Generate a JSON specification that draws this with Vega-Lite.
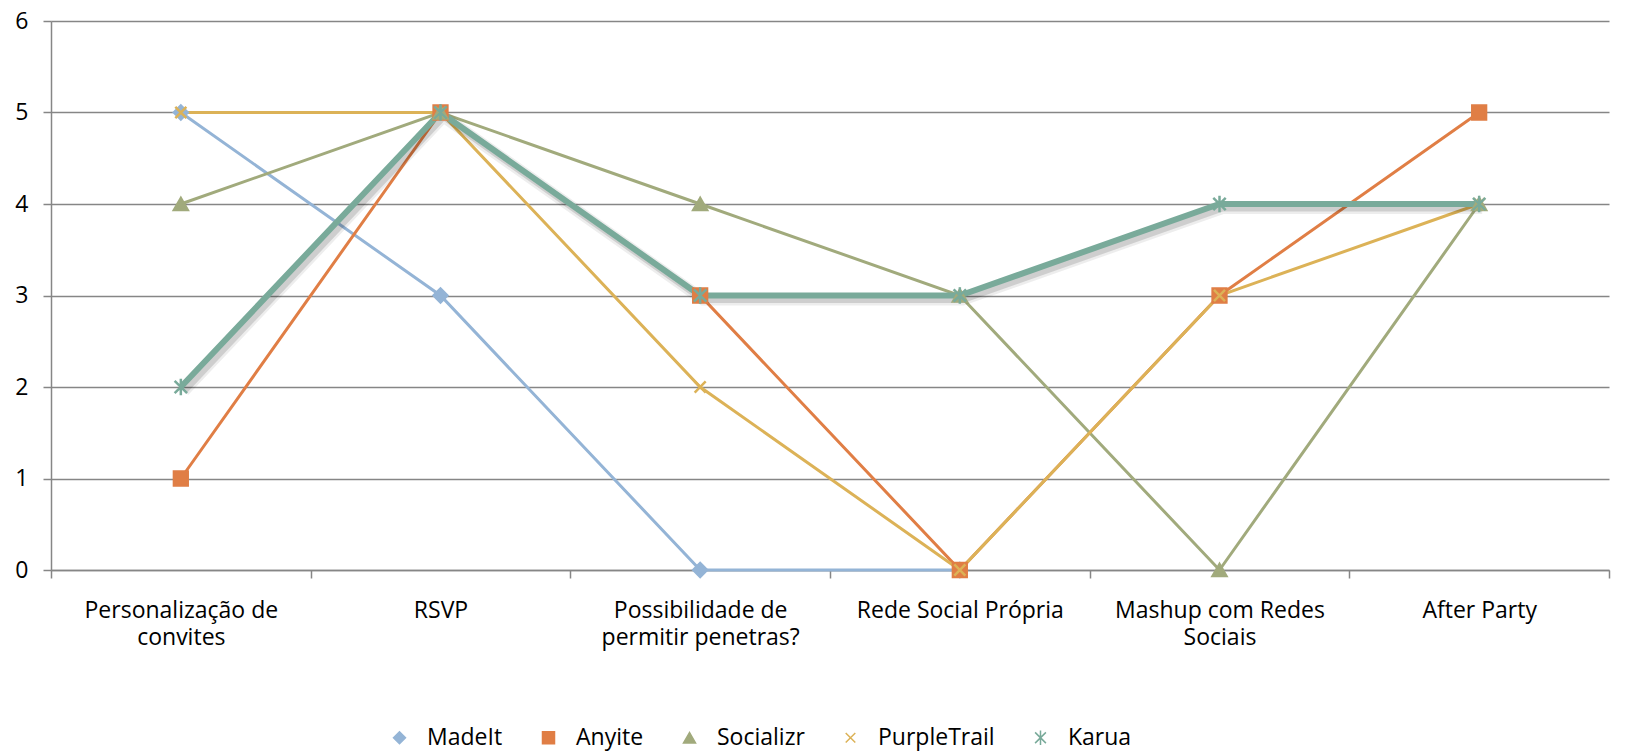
{
  "$schema": "https://vega.github.io/schema/vega-lite/v6.json",
  "width": 1558,
  "height": 549,
  "autosize": {"type": "none"},
  "padding": {"left": 51, "top": 21, "right": 19, "bottom": 183},
  "background": "white",
  "config": {"view": {"stroke": null}, "font": "Open Sans"},
  "data": {
    "values": [
      {"series": "MadeIt", "feature": "Personalização de convites", "score": 5},
      {"series": "MadeIt", "feature": "RSVP", "score": 3},
      {"series": "MadeIt", "feature": "Possibilidade de permitir penetras?", "score": 0},
      {"series": "MadeIt", "feature": "Rede Social Própria", "score": 0},
      {"series": "Anyite", "feature": "Personalização de convites", "score": 1},
      {"series": "Anyite", "feature": "RSVP", "score": 5},
      {"series": "Anyite", "feature": "Possibilidade de permitir penetras?", "score": 3},
      {"series": "Anyite", "feature": "Rede Social Própria", "score": 0},
      {"series": "Anyite", "feature": "Mashup com Redes Sociais", "score": 3},
      {"series": "Anyite", "feature": "After Party", "score": 5},
      {"series": "Socializr", "feature": "Personalização de convites", "score": 4},
      {"series": "Socializr", "feature": "RSVP", "score": 5},
      {"series": "Socializr", "feature": "Possibilidade de permitir penetras?", "score": 4},
      {"series": "Socializr", "feature": "Rede Social Própria", "score": 3},
      {"series": "Socializr", "feature": "Mashup com Redes Sociais", "score": 0},
      {"series": "Socializr", "feature": "After Party", "score": 4},
      {"series": "PurpleTrail", "feature": "Personalização de convites", "score": 5},
      {"series": "PurpleTrail", "feature": "RSVP", "score": 5},
      {"series": "PurpleTrail", "feature": "Possibilidade de permitir penetras?", "score": 2},
      {"series": "PurpleTrail", "feature": "Rede Social Própria", "score": 0},
      {"series": "PurpleTrail", "feature": "Mashup com Redes Sociais", "score": 3},
      {"series": "PurpleTrail", "feature": "After Party", "score": 4},
      {"series": "Karua", "feature": "Personalização de convites", "score": 2},
      {"series": "Karua", "feature": "RSVP", "score": 5},
      {"series": "Karua", "feature": "Possibilidade de permitir penetras?", "score": 3},
      {"series": "Karua", "feature": "Rede Social Própria", "score": 3},
      {"series": "Karua", "feature": "Mashup com Redes Sociais", "score": 4},
      {"series": "Karua", "feature": "After Party", "score": 4}
    ]
  },
  "encoding": {
    "x": {
      "field": "feature",
      "type": "nominal",
      "bandPosition": 0.5,
      "scale": {
        "type": "band",
        "domain": ["Personalização de convites", "RSVP", "Possibilidade de permitir penetras?", "Rede Social Própria", "Mashup com Redes Sociais", "After Party"],
        "paddingInner": 0,
        "paddingOuter": 0
      },
      "axis": {
        "title": null,
        "labelAngle": 0,
        "grid": false,
        "domain": true,
        "domainColor": "#868686",
        "domainWidth": 1.5,
        "ticks": true,
        "tickBand": "extent",
        "tickSize": 8,
        "tickColor": "#868686",
        "tickWidth": 1.5,
        "labelFont": "Open Sans",
        "labelFontSize": 23,
        "labelColor": "#000000",
        "labelPadding": 21,
        "labelLineHeight": 27,
        "labelLimit": 500,
        "labelExpr": "datum.label == 'Personalização de convites' ? ['Personalização de', 'convites'] : datum.label == 'Possibilidade de permitir penetras?' ? ['Possibilidade de', 'permitir penetras?'] : datum.label == 'Mashup com Redes Sociais' ? ['Mashup com Redes', 'Sociais'] : datum.label"
      }
    },
    "y": {
      "field": "score",
      "type": "quantitative",
      "scale": {"domain": [0, 6], "nice": false},
      "axis": {
        "title": null,
        "values": [0, 1, 2, 3, 4, 5, 6],
        "grid": true,
        "gridColor": "#868686",
        "gridWidth": 1.5,
        "domainColor": "#868686",
        "domainWidth": 1.5,
        "tickColor": "#868686",
        "tickWidth": 1.5,
        "tickSize": 8,
        "labelFont": "Open Sans",
        "labelFontSize": 23,
        "labelColor": "#000000",
        "labelPadding": 15
      }
    }
  },
  "layer": [
    {
      "transform": [{"filter": "datum.series !== 'Karua'"}],
      "mark": {"type": "line", "strokeWidth": 3},
      "encoding": {
        "color": {
          "field": "series",
          "type": "nominal",
          "scale": {"domain": ["MadeIt", "Anyite", "Socializr", "PurpleTrail", "Karua"], "range": ["#94B4D6", "#E07E45", "#A1AA7C", "#DCB257", "#79AA9A"]}
        }
      }
    },
    {
      "transform": [{"filter": "datum.series === 'Karua'"}],
      "mark": {"type": "line", "strokeWidth": 12, "color": "#000000", "opacity": 0.07, "xOffset": 3, "yOffset": 4},
      "encoding": {}
    },
    {
      "transform": [{"filter": "datum.series === 'Karua'"}],
      "mark": {"type": "line", "strokeWidth": 7, "color": "#000000", "opacity": 0.13, "xOffset": 3, "yOffset": 4},
      "encoding": {}
    },
    {
      "transform": [{"filter": "datum.series === 'Karua'"}],
      "mark": {"type": "line", "strokeWidth": 6},
      "encoding": {
        "color": {"field": "series", "type": "nominal"}
      }
    },
    {
      "mark": {"type": "point", "filled": true, "size": 190, "strokeWidth": 2.5, "opacity": 1},
      "encoding": {
        "color": {
          "field": "series",
          "type": "nominal",
          "legend": {
            "orient": "none",
            "legendX": 325,
            "legendY": 705,
            "direction": "horizontal",
            "title": null,
            "symbolSize": 144,
            "symbolOffset": 12,
            "labelOffset": 16,
            "columnPadding": 22,
            "labelFont": "Open Sans",
            "labelFontSize": 23,
            "labelColor": "#000000",
            "labelLimit": 300
          }
        },
        "shape": {
          "field": "series",
          "type": "nominal",
          "legend": null,
          "scale": {"domain": ["MadeIt", "Anyite", "Socializr", "PurpleTrail", "Karua"], "range": ["diamond", "square", "triangle-up", "M-0.8,-0.8L0.8,0.8M0.8,-0.8L-0.8,0.8", "M-0.9,-0.9L0.9,0.9M0.9,-0.9L-0.9,0.9M0,-1.2L0,1.2"]}
        },
        "stroke": {
          "field": "series",
          "type": "nominal",
          "scale": {"domain": ["MadeIt", "Anyite", "Socializr", "PurpleTrail", "Karua"], "range": ["#94B4D6", "#E07E45", "#A1AA7C", "#DCB257", "#79AA9A"]},
          "legend": null
        }
      }
    }
  ]
}
